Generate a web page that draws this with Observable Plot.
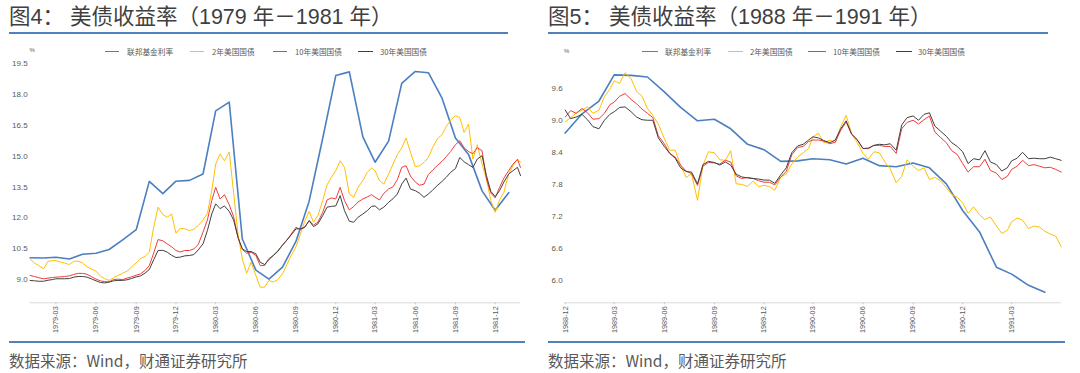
<!DOCTYPE html>
<html><head><meta charset="utf-8">
<script src="https://cdn.jsdelivr.net/npm/d3@7"></script>
<script src="https://cdn.jsdelivr.net/npm/@observablehq/plot@0.6"></script>
<style>
html,body{margin:0;padding:0;background:#fff;}
body{width:1080px;height:373px;position:relative;overflow:hidden;font-family:"Noto Sans CJK SC","Noto Sans",sans-serif;}
.abs{position:absolute;white-space:nowrap;}
.title{font-family:"Liberation Sans","Noto Sans CJK SC",sans-serif;font-size:21.5px;line-height:22px;color:#3f3f3f;}
.rule{height:2px;background:#4f81bd;}
.foot{font-size:15.5px;line-height:16px;color:#595959;}
.lgt{font-size:7.7px;line-height:8px;color:#595959;}
.pct{font-size:6px;line-height:6px;color:#595959;font-family:"Liberation Sans",Arial,sans-serif;}
svg{position:absolute;top:40px;}
</style></head><body>
<script>
// ---------- text ----------
const titles = ["图4： 美债收益率（1979 年－1981 年）", "图5： 美债收益率（1988 年－1991 年）"];
const source = "数据来源：Wind，财通证券研究所";
const seriesNames = ["联邦基金利率", "2年美国国债", "10年美国国债", "30年美国国债"];
const seriesColors = ["#4a7fc1", "#ffc000", "#f03c3c", "#404040"];

// ---------- panel 1 (1979-1981) ----------
const leftYTicks = [9.0, 10.5, 12.0, 13.5, 15.0, 16.5, 18.0, 19.5];
const leftXTicks = ["1979-03-01","1979-06-01","1979-09-01","1979-12-01","1980-03-01","1980-06-01","1980-09-01","1980-12-01","1981-03-01","1981-06-01","1981-09-01","1981-12-01"];
const leftFFDates = ["1979-01-01","1979-02-01","1979-03-01","1979-04-01","1979-05-01","1979-06-01","1979-07-01","1979-08-01","1979-09-01","1979-10-01","1979-11-01","1979-12-01",
"1980-01-01","1980-02-01","1980-03-01","1980-04-01","1980-05-01","1980-06-01","1980-07-01","1980-08-01","1980-09-01","1980-10-01","1980-11-01","1980-12-01",
"1981-01-01","1981-02-01","1981-03-01","1981-04-01","1981-05-01","1981-06-01","1981-07-01","1981-08-01","1981-09-01","1981-10-01","1981-11-01","1981-12-01","1982-01-01"];
const leftFF = [10.07,10.06,10.09,10.01,10.24,10.29,10.47,10.94,11.43,13.77,13.18,13.78,
13.82,14.13,17.19,17.61,10.98,9.47,9.03,9.61,10.87,12.81,15.85,18.90,
19.08,15.93,14.70,15.72,18.52,19.10,19.04,17.82,15.87,15.08,13.31,12.37,13.22];
const leftDates = [
"1979-01-01","1979-01-11","1979-01-21","1979-02-01","1979-02-11","1979-02-21","1979-03-01","1979-03-11","1979-03-21","1979-04-01","1979-04-11","1979-04-21",
"1979-05-01","1979-05-11","1979-05-21","1979-06-01","1979-06-11","1979-06-21","1979-07-01","1979-07-11","1979-07-21","1979-08-01","1979-08-11","1979-08-21",
"1979-09-01","1979-09-11","1979-09-21","1979-10-01","1979-10-11","1979-10-21","1979-11-01","1979-11-11","1979-11-21","1979-12-01","1979-12-11","1979-12-21",
"1980-01-01","1980-01-11","1980-01-21","1980-02-01","1980-02-11","1980-02-21","1980-03-01","1980-03-11","1980-03-21","1980-04-01","1980-04-11","1980-04-21",
"1980-05-01","1980-05-11","1980-05-21","1980-06-01","1980-06-11","1980-06-21","1980-07-01","1980-07-11","1980-07-21","1980-08-01","1980-08-11","1980-08-21",
"1980-09-01","1980-09-11","1980-09-21","1980-10-01","1980-10-11","1980-10-21","1980-11-01","1980-11-11","1980-11-21","1980-12-01","1980-12-11","1980-12-21",
"1981-01-01","1981-01-11","1981-01-21","1981-02-01","1981-02-11","1981-02-21","1981-03-01","1981-03-11","1981-03-21","1981-04-01","1981-04-11","1981-04-21",
"1981-05-01","1981-05-11","1981-05-21","1981-06-01","1981-06-11","1981-06-21","1981-07-01","1981-07-11","1981-07-21","1981-08-01","1981-08-11","1981-08-21",
"1981-09-01","1981-09-11","1981-09-21","1981-10-01","1981-10-11","1981-10-21","1981-11-01","1981-11-11","1981-11-21","1981-12-01","1981-12-11","1981-12-21",
"1982-01-01","1982-01-11","1982-01-21","1982-01-28"];
const leftT2 = [10.01,9.81,9.69, 9.53,9.90,9.93, 9.93,9.87,9.81, 9.74,9.90,9.90, 9.82,9.64,9.53, 9.42,9.18,9.05,
8.97,9.10,9.21, 9.32,9.42,9.61, 9.82,10.03,10.13, 10.34,11.55,12.52, 12.16,12.03,12.19, 11.26,11.50,11.47,
11.39,11.45,11.63, 11.90,12.22,13.32, 14.61,15.10,14.77, 15.20,13.24,11.22, 10.01,9.32,9.85, 9.21,8.64,8.64,
8.97,8.89,9.00, 9.29,9.74,10.18, 10.61,11.22,11.84, 12.32,11.79,12.11, 12.84,13.60,13.97, 14.29,14.77,14.45,
13.16,13.00,13.48, 13.81,14.21,14.42, 14.29,13.81,13.64, 14.13,14.61,15.06, 15.39,15.87,15.18, 14.48,14.53,14.69,
14.93,15.42,15.82, 16.03,16.43,16.74, 16.95,16.87,16.14, 16.55,14.85,15.55, 14.61,13.89,12.84, 12.27,12.87,13.24,
14.13,14.53,14.85,14.69];
const leftT10 = [9.21,9.16,9.10, 9.05,9.08,9.11, 9.13,9.14,9.16, 9.19,9.26,9.31, 9.31,9.27,9.16, 9.03,8.95,8.91,
8.90,9.01,9.03, 9.01,9.08,9.14, 9.22,9.29,9.45, 9.69,10.29,10.95, 10.89,10.74,10.60, 10.42,10.35,10.42,
10.42,10.50,10.71, 11.31,11.90,12.84, 13.48,12.92,13.13, 12.64,12.06,11.06, 10.47,10.29,10.34, 10.18,9.69,9.69,
10.03,10.18,10.40, 10.68,10.93,11.22, 11.55,11.43,11.55, 11.87,11.66,11.79, 12.27,12.87,12.97, 12.92,13.48,12.84,
12.39,12.55,12.77, 12.92,13.01,13.13, 13.00,12.87,13.19, 13.40,13.51,13.85, 14.45,14.53,14.03, 13.74,13.58,13.64,
14.10,14.32,14.53, 14.74,14.97,15.22, 15.55,15.74,15.39, 15.22,15.11,15.40, 15.26,13.89,13.21, 12.97,13.48,13.93,
14.29,14.61,14.84,14.45];
const leftT30 = [8.97,8.95,8.93, 8.93,8.98,9.01, 9.05,9.05,9.05, 9.06,9.13,9.16, 9.16,9.13,9.05, 8.95,8.87,8.85,
8.89,8.95,8.97, 8.97,9.00,9.06, 9.14,9.19,9.32, 9.50,9.97,10.42, 10.43,10.34,10.19, 10.08,10.10,10.16,
10.18,10.22,10.45, 10.74,11.39,12.19, 12.68,12.45,12.58, 12.32,11.90,11.06, 10.50,10.37,10.37, 10.26,9.85,9.74,
9.98,10.18,10.37, 10.68,10.92,11.18, 11.47,11.47,11.55, 11.87,11.58,11.71, 12.11,12.52,12.56, 12.58,13.08,12.35,
11.84,11.79,12.03, 12.19,12.35,12.56, 12.58,12.39,12.52, 12.76,12.93,13.16, 13.64,13.93,13.40, 13.32,13.19,13.00,
13.16,13.35,13.56, 13.76,13.97,14.21, 14.39,14.93,14.72, 14.58,14.45,14.85, 15.02,14.05,13.29, 13.03,13.32,13.74,
14.13,14.29,14.45,14.05];

// ---------- panel 2 (1988-1991) ----------
const rightYTicks = [6.0, 6.6, 7.2, 7.8, 8.4, 9.0, 9.6];
const rightXTicks = ["1988-12-01","1989-03-01","1989-06-01","1989-09-01","1989-12-01","1990-03-01","1990-06-01","1990-09-01","1990-12-01","1991-03-01"];
const rightFFDates = ["1988-12-01",
"1989-01-01","1989-02-01","1989-03-01","1989-04-01","1989-05-01","1989-06-01","1989-07-01","1989-08-01","1989-09-01","1989-10-01","1989-11-01","1989-12-01",
"1990-01-01","1990-02-01","1990-03-01","1990-04-01","1990-05-01","1990-06-01","1990-07-01","1990-08-01","1990-09-01","1990-10-01","1990-11-01","1990-12-01",
"1991-01-01","1991-02-01","1991-03-01","1991-04-01","1991-05-01"];
const rightFF = [8.76, 9.12,9.36,9.85,9.84,9.81,9.53,9.24,8.99,9.02,8.84,8.55,8.45,
8.23,8.24,8.28,8.26,8.18,8.29,8.15,8.13,8.20,8.11,7.81,7.31, 6.91,6.25,6.12,5.91,5.78];
const rightDates = ["1988-12-01","1988-12-11","1988-12-21",
"1989-01-01","1989-01-11","1989-01-21","1989-02-01","1989-02-11","1989-02-21","1989-03-01","1989-03-11","1989-03-21","1989-04-01","1989-04-11","1989-04-21",
"1989-05-01","1989-05-11","1989-05-21","1989-06-01","1989-06-11","1989-06-21","1989-07-01","1989-07-11","1989-07-21","1989-08-01","1989-08-11","1989-08-21",
"1989-09-01","1989-09-11","1989-09-21","1989-10-01","1989-10-11","1989-10-21","1989-11-01","1989-11-11","1989-11-21","1989-12-01","1989-12-11","1989-12-21",
"1990-01-01","1990-01-11","1990-01-21","1990-02-01","1990-02-11","1990-02-21","1990-03-01","1990-03-11","1990-03-21","1990-04-01","1990-04-11","1990-04-21",
"1990-05-01","1990-05-11","1990-05-21","1990-06-01","1990-06-11","1990-06-21","1990-07-01","1990-07-11","1990-07-21","1990-08-01","1990-08-11","1990-08-21",
"1990-09-01","1990-09-11","1990-09-21","1990-10-01","1990-10-11","1990-10-21","1990-11-01","1990-11-11","1990-11-21","1990-12-01","1990-12-11","1990-12-21",
"1991-01-01","1991-01-11","1991-01-21","1991-02-01","1991-02-11","1991-02-21","1991-03-01","1991-03-11","1991-03-21","1991-04-01","1991-04-11","1991-04-21",
"1991-05-01","1991-05-11","1991-05-21","1991-05-31"];
const rightT2 = [8.97,9.05,9.13, 9.19,9.25,9.13, 9.19,9.44,9.58, 9.74,9.69,9.89, 9.78,9.54,9.45, 9.22,9.09,8.93,
8.66,8.44,8.44, 8.16,7.93,8.00, 7.50,8.16,8.41, 8.39,8.26,8.25, 8.43,7.81,7.80, 7.76,7.86,7.76, 7.78,7.76,7.69,
7.94,7.99,8.18, 8.31,8.39,8.47, 8.69,8.76,8.58, 8.63,8.58,8.88, 9.09,8.75,8.59, 8.38,8.27,8.41, 8.39,8.22,8.09,
7.83,7.95,8.26, 8.14,8.06,8.11, 7.89,7.93,7.87, 7.74,7.61,7.56, 7.45,7.26,7.38, 7.23,7.14,7.19, 7.02,6.88,6.94,
7.10,7.17,7.13, 6.97,7.02,7.00, 6.92,6.87,6.83,6.63];
const rightT10 = [9.06,9.18,9.13, 9.22,9.14,9.02, 9.03,9.13,9.29, 9.34,9.45,9.50, 9.39,9.31,9.21, 9.13,9.05,8.71,
8.56,8.38,8.31, 8.16,8.05,8.00, 7.78,8.14,8.21, 8.20,8.18,8.25, 8.22,7.96,7.91, 7.93,7.91,7.87, 7.84,7.84,7.79,
7.94,8.04,8.35, 8.49,8.51,8.60, 8.63,8.63,8.61, 8.56,8.59,8.81, 8.97,8.74,8.64, 8.47,8.47,8.53, 8.53,8.51,8.51,
8.38,8.84,8.96, 9.00,8.93,9.01, 9.08,8.78,8.68, 8.58,8.43,8.36, 8.19,8.03,8.13, 8.13,8.27,8.06, 8.01,7.89,7.95,
8.08,8.14,8.25, 8.15,8.17,8.14, 8.11,8.12,8.08,8.03];
const rightT30 = [9.19,9.03,9.06, 9.11,9.01,8.88, 8.84,9.00,9.11, 9.16,9.24,9.25, 9.16,9.06,9.01, 9.00,9.00,8.67,
8.51,8.38,8.29, 8.11,8.04,8.03, 7.81,8.17,8.23, 8.21,8.16,8.22, 8.16,7.99,7.94, 7.92,7.91,7.90, 7.88,7.88,7.82,
7.98,8.11,8.39, 8.52,8.55,8.63, 8.69,8.67,8.62, 8.58,8.63,8.84, 8.99,8.74,8.64, 8.47,8.48,8.53, 8.55,8.54,8.56,
8.44,8.91,9.05, 9.08,9.00,9.11, 9.14,8.89,8.80, 8.70,8.58,8.51, 8.41,8.19,8.28, 8.26,8.43,8.22, 8.17,8.05,8.11,
8.24,8.29,8.40, 8.28,8.29,8.28, 8.28,8.31,8.28,8.25];

// ---------- helpers ----------
function el(cls, x, y, html, extra) {
  const d = document.createElement("div");
  d.className = "abs " + cls;
  d.style.left = x + "px"; d.style.top = y + "px";
  if (html != null) d.textContent = html;
  if (extra) Object.assign(d.style, extra);
  document.body.appendChild(d);
  return d;
}
const toRows = (dates, vals) => dates.map((d, i) => ({date: new Date(d), v: vals[i]}));

function panel(cfg) {
  const svg = Plot.plot({
    width: 540, height: 300,
    marginTop: 22.7, marginBottom: 37.7, marginLeft: cfg.ml, marginRight: cfg.mr,
    style: {background: "transparent", color: "#595959", fontFamily: "'Liberation Sans', Arial, sans-serif", overflow: "visible"},
    x: {type: "utc", domain: cfg.xDomain.map(d => new Date(d)), axis: null},
    y: {domain: cfg.yDomain, axis: null},
    marks: [
      Plot.ruleY([cfg.yDomain[0]], {stroke: "#d9d9d9", strokeWidth: 1}),
      Plot.axisX({ticks: cfg.xTicks.map(d => new Date(d)), tickFormat: d3.utcFormat("%Y-%m"), tickRotate: -90,
        tickSize: 2, tickPadding: 1.5, fontSize: 7.3, stroke: "#c8c8c8", fill: "#595959", label: null}),
      Plot.axisY({ticks: cfg.yTicks, tickFormat: d3.format(".1f"), tickSize: 0, tickPadding: 2.5,
        fontSize: 8, fill: "#595959", label: null}),
      Plot.line(toRows(cfg.ffDates, cfg.ff), {x: "date", y: "v", stroke: seriesColors[0], strokeWidth: 1.6}),
      Plot.line(toRows(cfg.dates, cfg.t2), {x: "date", y: "v", stroke: seriesColors[1], strokeWidth: 1}),
      Plot.line(toRows(cfg.dates, cfg.t10), {x: "date", y: "v", stroke: seriesColors[2], strokeWidth: 1}),
      Plot.line(toRows(cfg.dates, cfg.t30), {x: "date", y: "v", stroke: seriesColors[3], strokeWidth: 1})
    ]
  });
  svg.style.left = cfg.left + "px";
  document.body.appendChild(svg);
}

// ---------- panels ----------
panel({left: 0, ml: 29.6, mr: 20, xDomain: ["1979-01-01", "1982-01-28"], yDomain: [7.885, 19.5],
  xTicks: leftXTicks, yTicks: leftYTicks, ffDates: leftFFDates, ff: leftFF,
  dates: leftDates, t2: leftT2, t10: leftT10, t30: leftT30});
panel({left: 540, ml: 24.7, mr: 19.3, xDomain: ["1988-12-01", "1991-05-31"], yDomain: [5.583, 10.068],
  xTicks: rightXTicks, yTicks: rightYTicks, ffDates: rightFFDates, ff: rightFF,
  dates: rightDates, t2: rightT2, t10: rightT10, t30: rightT30});

// ---------- titles, rules, legends, sources ----------
el("title", 9, 5.5, titles[0]);
el("title", 548, 5.5, titles[1]);
el("rule", 9, 32.3, null, {width: "499px"});
el("rule", 548, 32.3, null, {width: "500px"});
el("rule", 9, 341.3, null, {width: "516px"});
el("rule", 548, 341.3, null, {width: "517px"});
el("foot", 9, 352, source);
el("foot", 548, 352, source);
el("pct", 29.5, 47, "%");
el("pct", 564, 47.5, "%");

const legLeft = [[105, 119, 127], [190, 204, 212], [273, 287, 295], [358, 373, 380]];
const legRight = [[642, 658, 665], [728, 743, 750], [808, 826, 833], [896, 912, 918]];
[legLeft, legRight].forEach(items => items.forEach(([a, b, t], i) => {
  el("", a, 50.8, null, {width: (b - a) + "px", height: "1.6px", background: seriesColors[i]});
  el("lgt", t, 47.6, seriesNames[i]);
}));
</script>
</body></html>
